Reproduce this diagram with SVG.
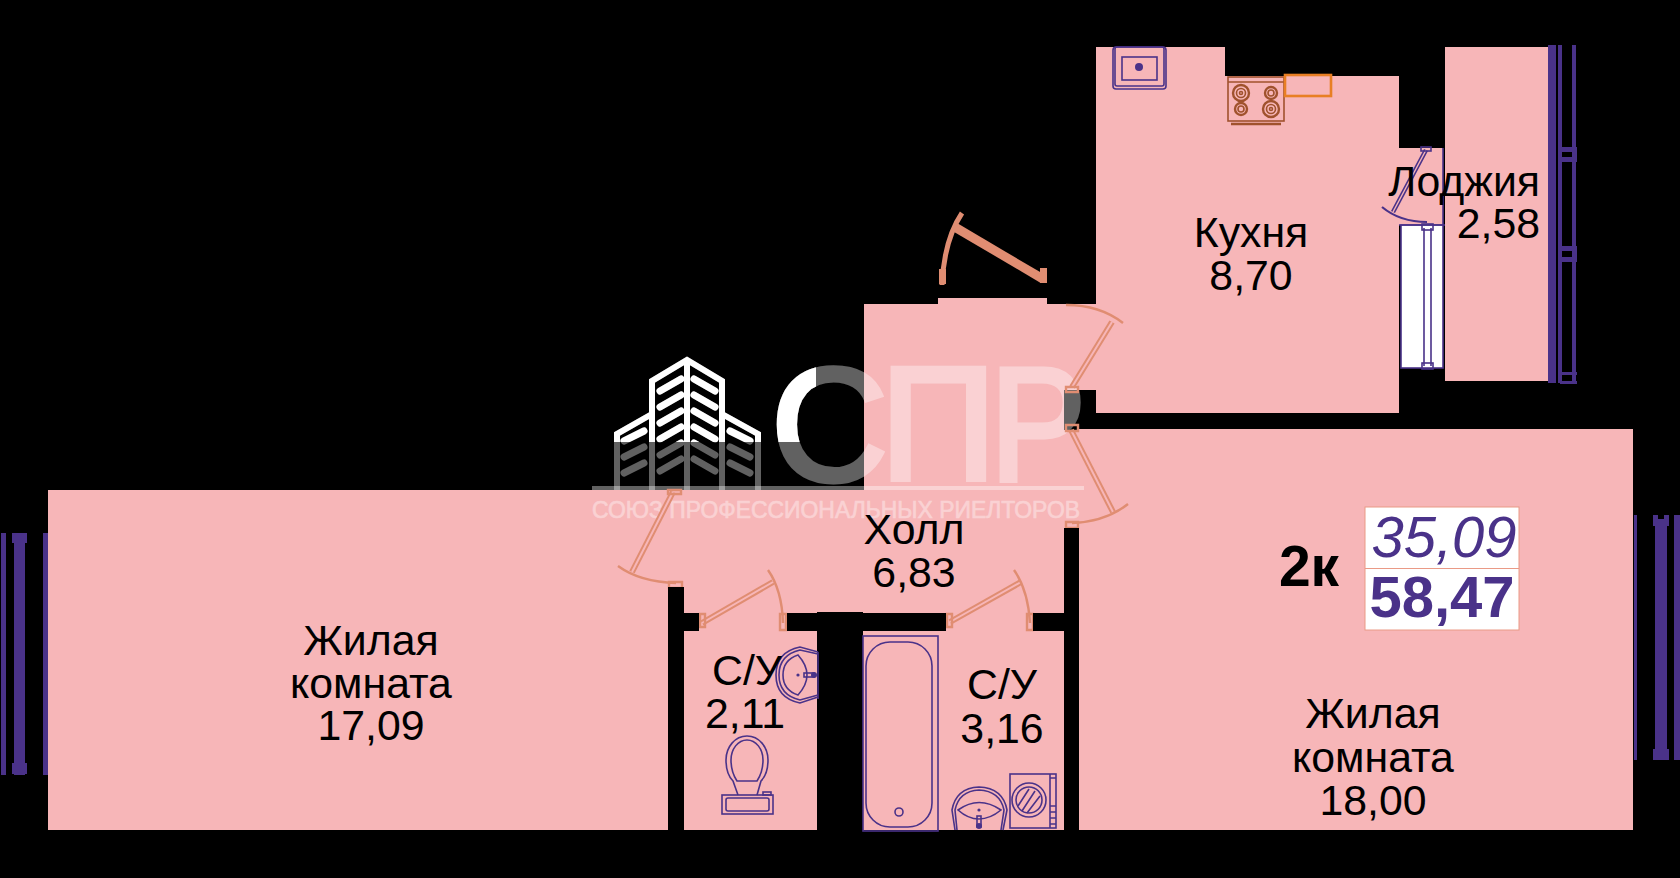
<svg xmlns="http://www.w3.org/2000/svg" xmlns:xlink="http://www.w3.org/1999/xlink" width="1680" height="878" viewBox="0 0 1680 878">
<style>
.room{fill:#f7b6b8}
.wall{fill:#000}
.lbl{font-family:"Liberation Sans",Arial,sans-serif;font-size:42.8px;fill:#000;text-anchor:middle}
.fx{fill:none;stroke:#4a3289;stroke-width:1.6}
.pf{fill:#4a3289}
.door{fill:none;stroke:#e08d72;stroke-width:2.4}
.leaf{fill:none;stroke:#e08d72;stroke-width:6}
.leafin{fill:none;stroke:#f7b6b8;stroke-width:2}
.post{fill:none;stroke:#e08d72;stroke-width:2.4}
.wm{fill:#fff;stroke:#fff;stroke-width:5}
.wmc{fill:none;stroke:#fff;stroke-width:7;stroke-linecap:round}
.wmo{fill:none;stroke:#fff;stroke-width:6}
</style>
<defs>
<clipPath id="wmclip"><rect x="0" y="0" width="816" height="442"/></clipPath>
<g id="wmshape">
<text x="771" y="480" font-family="'Liberation Sans',Arial,sans-serif" font-size="162" class="wm">С</text>
<text x="880" y="480" font-family="'Liberation Sans',Arial,sans-serif" font-size="162" class="wm">П</text>
<text x="990" y="480" font-family="'Liberation Sans',Arial,sans-serif" font-size="162" class="wm" textLength="96" lengthAdjust="spacingAndGlyphs">Р</text>
<path class="wmo" d="M652 490V381L687 360L722 381V490M617 490V434L652 414M722 414L758 434V490M687 360V490"/>
<path class="wmc" d="M660 391L681 379M660 407L681 395M660 423L681 411M660 439L681 427M660 455L681 443M660 471L681 459M694 379L715 391M694 395L715 407M694 411L715 423M694 427L715 439M694 443L715 455M694 459L715 471M624 441L644 431M624 457L644 447M624 473L644 463M730 431L750 441M730 447L750 457M730 463L750 473"/>
</g>
</defs>
<rect id="background" x="0" y="0" width="1680" height="878" fill="#000"/>
<g id="room-left"><rect class="room" x="48" y="490" width="620" height="340"/></g>
<g id="room-hall"><polygon class="room" points="864,304 938,304 938,298 1047,298 1047,304 1096,304 1096,390 1064,390 1064,430 1079,430 1079,528 1064,528 1064,613 1033,613 1033,631 946,631 946,613 817,613 787,613 787,631 699,631 699,613 684,613 684,587 668,587 668,490 864,490"/></g>
<g id="room-kitchen"><polygon class="room" points="1096,47 1225,47 1225,76 1399,76 1399,148 1443,148 1443,225 1399,225 1399,413 1096,413"/></g>
<g id="room-loggia"><rect class="room" x="1445" y="47" width="103" height="334"/></g>
<g id="room-right"><rect class="room" x="1079" y="429" width="554" height="401"/></g>
<g id="room-wc1"><rect class="room" x="684" y="631" width="133" height="199"/></g>
<g id="room-wc2"><rect class="room" x="862" y="631" width="202" height="199"/></g>
<g id="watermark">
<use xlink:href="#wmshape" href="#wmshape" opacity="0.38"/>
<g clip-path="url(#wmclip)"><use xlink:href="#wmshape" href="#wmshape"/></g>
<rect x="592" y="486" width="492" height="4" fill="#fff" opacity="0.38"/>
<text x="592" y="518" font-family="'Liberation Sans',Arial,sans-serif" font-size="23" fill="#fff" stroke="#fff" stroke-width="0.6" opacity="0.38" textLength="488" lengthAdjust="spacingAndGlyphs">СОЮЗ ПРОФЕССИОНАЛЬНЫХ РИЕЛТОРОВ</text>
</g>
<g id="window-kitchen">
<rect x="1401" y="225" width="42" height="143" fill="#fff" stroke="#4a3289" stroke-width="1.6"/>
<path class="fx" d="M1443 148V225M1399 225H1445M1424 228V366M1431 228V366"/>
<rect class="fx" x="1422" y="224" width="11" height="6" stroke-width="2"/>
<rect class="fx" x="1422" y="363" width="11" height="6" stroke-width="2"/>
<path d="M1426 150L1393 212" fill="none" stroke="#4a3289" stroke-width="4.5"/>
<path d="M1426 150L1393 212" fill="none" stroke="#f7b6b8" stroke-width="1.4"/>
<rect class="fx" x="1421" y="147" width="10" height="4" stroke-width="2"/>
<path d="M1382 207Q1400 222 1427 222" fill="none" stroke="#4a3289" stroke-width="2.2"/>
</g>
<g id="window-loggia" class="pf">
<rect x="1548" y="45" width="8" height="338"/>
<rect x="1558" y="45" width="4" height="338"/>
<rect x="1572" y="45" width="4" height="338"/>
<rect x="1560" y="147" width="17" height="5"/><rect x="1560" y="157" width="17" height="5"/><rect x="1573" y="147" width="4" height="15"/>
<rect x="1560" y="246" width="17" height="5"/><rect x="1560" y="257" width="17" height="5"/><rect x="1573" y="246" width="4" height="16"/>
<rect x="1560" y="372" width="17" height="3"/><rect x="1560" y="381" width="17" height="3"/>
</g>
<g id="window-left" class="pf">
<rect x="1" y="533" width="5" height="242"/>
<rect x="14" y="533" width="11" height="242"/>
<path d="M12 533H17V537H22V533H27V543H25V763H27V774H12V763H14V543H12Z"/>
<rect x="43" y="533" width="5" height="242"/>
</g>
<g id="window-right" class="pf">
<rect x="1634" y="515" width="3" height="245"/>
<path d="M1653 515H1658V519H1664V515H1669V526H1667V749H1669V760H1653V749H1655V526H1653Z"/>
<rect x="1674" y="515" width="6" height="245"/>
</g>
<g id="doors">
<path d="M953 226L1043 279" fill="none" stroke="#e08d72" stroke-width="9"/>
<path d="M942 285Q944 240 962 213" fill="none" stroke="#e08d72" stroke-width="5"/>
<rect x="939" y="269" width="7" height="15" fill="#e08d72"/>
<rect x="1040" y="268" width="7" height="15" fill="#e08d72"/>
<path class="leaf" d="M1072 387L1112 322"/><path class="leafin" d="M1072 387L1112 322"/>
<path class="door" d="M1066 305Q1100 305 1123 323"/>
<path class="post" d="M1066 387H1078V392H1066Z"/>
<path class="leaf" d="M1071 430L1113 512"/><path class="leafin" d="M1071 430L1113 512"/>
<path class="door" d="M1072 523Q1105 522 1128 504"/>
<path class="post" d="M1066 425H1078V431H1066Z"/>
<path class="post" d="M1066 522H1078V528H1066Z"/>
<path class="leaf" d="M673 492L632 572"/><path class="leafin" d="M673 492L632 572"/>
<path class="door" d="M618 566Q640 582 676 583"/>
<path class="post" d="M668 490H681V494H668Z"/>
<path class="post" d="M669 582H682V588H669Z"/>
<path class="leaf" d="M702 623L773 582"/><path class="leafin" d="M702 623L773 582"/>
<path class="door" d="M768 570Q782 590 783 623"/>
<path class="leaf" d="M950 622L1021 582"/><path class="leafin" d="M950 622L1021 582"/>
<path class="door" d="M1014 570Q1028 590 1030 623"/>
<path class="post" d="M780 614H786V630H780Z"/>
<path class="post" d="M1027 614H1033V630H1027Z"/>
<path class="post" d="M700 614H705V627H700Z"/>
<path class="post" d="M947 614H952V627H947Z"/>
</g>
<g id="walls">
<rect class="wall" x="668" y="587" width="16" height="243"/>
<rect class="wall" x="684" y="613" width="15" height="18"/>
<rect class="wall" x="787" y="613" width="159" height="18"/>
<rect class="wall" x="817" y="612" width="46" height="218"/>
<rect class="wall" x="1033" y="613" width="31" height="18"/>
<rect class="wall" x="1064" y="528" width="15" height="302"/>
</g>
<g id="kitchen-fixtures">
<rect class="fx" x="1113" y="47" width="53" height="42" rx="3"/>
<rect class="fx" x="1115" y="47" width="49" height="39" rx="2"/>
<rect class="fx" x="1122" y="57" width="35" height="23"/>
<circle cx="1139" cy="67" r="4" fill="#4a3289"/>
<g fill="none" stroke="#a0522d" stroke-width="1.6">
<rect x="1228" y="77" width="56" height="44"/>
<path d="M1228 82H1284"/>
<circle cx="1241" cy="93" r="8" stroke-width="2.4"/><circle cx="1241" cy="93" r="4.5"/><circle cx="1241" cy="93" r="1.5"/>
<circle cx="1271" cy="93" r="6" stroke-width="2.4"/><circle cx="1271" cy="93" r="3"/>
<circle cx="1241" cy="109" r="6" stroke-width="2.4"/><circle cx="1241" cy="109" r="3"/>
<circle cx="1271" cy="109" r="8" stroke-width="2.4"/><circle cx="1271" cy="109" r="4.5"/><circle cx="1271" cy="109" r="1.5"/>
<path d="M1231 124H1281" stroke-width="2.5"/>
</g>
<rect x="1285" y="75" width="46" height="21" fill="none" stroke="#e87f24" stroke-width="2.6"/>
</g>
<g id="wc1-fixtures">
<path class="fx" d="M818 652L800 647Q776 652 776 675Q776 698 800 703L818 697"/>
<path class="fx" d="M818 654L800 650Q779 655 779 675Q779 695 800 700L818 695"/>
<path class="fx" d="M818 652V699"/>
<path class="fx" d="M798 655Q783 660 783 675Q783 690 798 695Q807 685 807 675Q807 665 798 655Z"/>
<rect class="fx" x="804" y="673" width="10" height="4"/>
<circle cx="814" cy="675" r="3" fill="#4a3289"/>
<circle cx="798" cy="675" r="1.6" fill="#4a3289"/>
<path class="fx" d="M738 795L733 781C728 776 726 768 726 760C726 747 735 736 747 736C759 736 768 747 768 760C768 768 766 776 761 781L757 795"/>
<path class="fx" d="M737 781C733 775 731 768 731 760C731 749 738 740 747 740C756 740 763 749 763 760C763 768 761 775 757 781Z"/>
<rect class="fx" x="722" y="795" width="51" height="19"/>
<rect class="fx" x="726" y="798" width="43" height="13" rx="2"/>
<rect class="fx" x="763" y="792" width="8" height="3"/>
</g>
<g id="wc2-fixtures">
<rect class="fx" x="863" y="636" width="75" height="195"/>
<rect class="fx" x="866" y="642" width="66" height="185" rx="24"/>
<circle class="fx" cx="899" cy="812" r="4"/>
<path class="fx" d="M955 830L952 810Q956 788 979 787Q1003 788 1007 810L1003 830"/>
<path class="fx" d="M957 830L955 810Q959 791 979 790Q1000 791 1004 810L1001 830"/>
<path class="fx" d="M958 810Q979 795 1001 810Q990 819 979 819Q968 819 958 810Z"/>
<circle cx="979" cy="810" r="1.6" fill="#4a3289"/>
<rect class="fx" x="977" y="816" width="4" height="11"/>
<circle cx="979" cy="826" r="3" fill="#4a3289"/>
<rect class="fx" x="1010" y="774" width="46" height="54"/>
<path class="fx" d="M1050 774V828M1050 778H1056M1050 806H1056M1050 812H1056M1050 818H1056M1050 824H1056"/>
<circle class="fx" cx="1029" cy="800" r="17"/>
<circle class="fx" cx="1029" cy="800" r="13"/>
<path class="fx" d="M1018 806L1029 789M1022 811L1035 791M1027 813L1040 796" stroke-width="1.2"/>
</g>
<g id="labels">
<g id="label-left"><text class="lbl" x="371" y="655">Жилая</text><text class="lbl" x="371" y="698">комната</text><text class="lbl" x="371" y="740">17,09</text></g>
<g id="label-kitchen"><text class="lbl" x="1251" y="247">Кухня</text><text class="lbl" x="1251" y="290">8,70</text></g>
<g id="label-loggia"><text class="lbl" x="1540" y="196" style="text-anchor:end">Лоджия</text><text class="lbl" x="1540" y="238" style="text-anchor:end">2,58</text></g>
<g id="label-hall"><text class="lbl" x="914" y="544">Холл</text><text class="lbl" x="914" y="587">6,83</text></g>
<g id="label-wc1"><text class="lbl" x="747" y="685">С/У</text><text class="lbl" x="745" y="728">2,11</text></g>
<g id="label-wc2"><text class="lbl" x="1002" y="699">С/У</text><text class="lbl" x="1002" y="743">3,16</text></g>
<g id="label-right"><text class="lbl" x="1373" y="728">Жилая</text><text class="lbl" x="1373" y="772">комната</text><text class="lbl" x="1373" y="815">18,00</text></g>
</g>
<g id="info-box">
<rect x="1365" y="507" width="154" height="123" fill="#fff" stroke="#ea9a86" stroke-width="1"/>
<path d="M1365 568.5H1519" stroke="#ea9a86" stroke-width="1"/>
<text x="1444" y="557" font-family="'Liberation Sans',Arial,sans-serif" font-size="58" font-style="italic" fill="#4a3289" text-anchor="middle">35,09</text>
<text x="1442" y="617" font-family="'Liberation Sans',Arial,sans-serif" font-size="58" font-weight="bold" fill="#4a3289" text-anchor="middle">58,47</text>
<text x="1309" y="586" font-family="'Liberation Sans',Arial,sans-serif" font-size="57" font-weight="bold" fill="#000" text-anchor="middle">2к</text>
</g>
</svg>
